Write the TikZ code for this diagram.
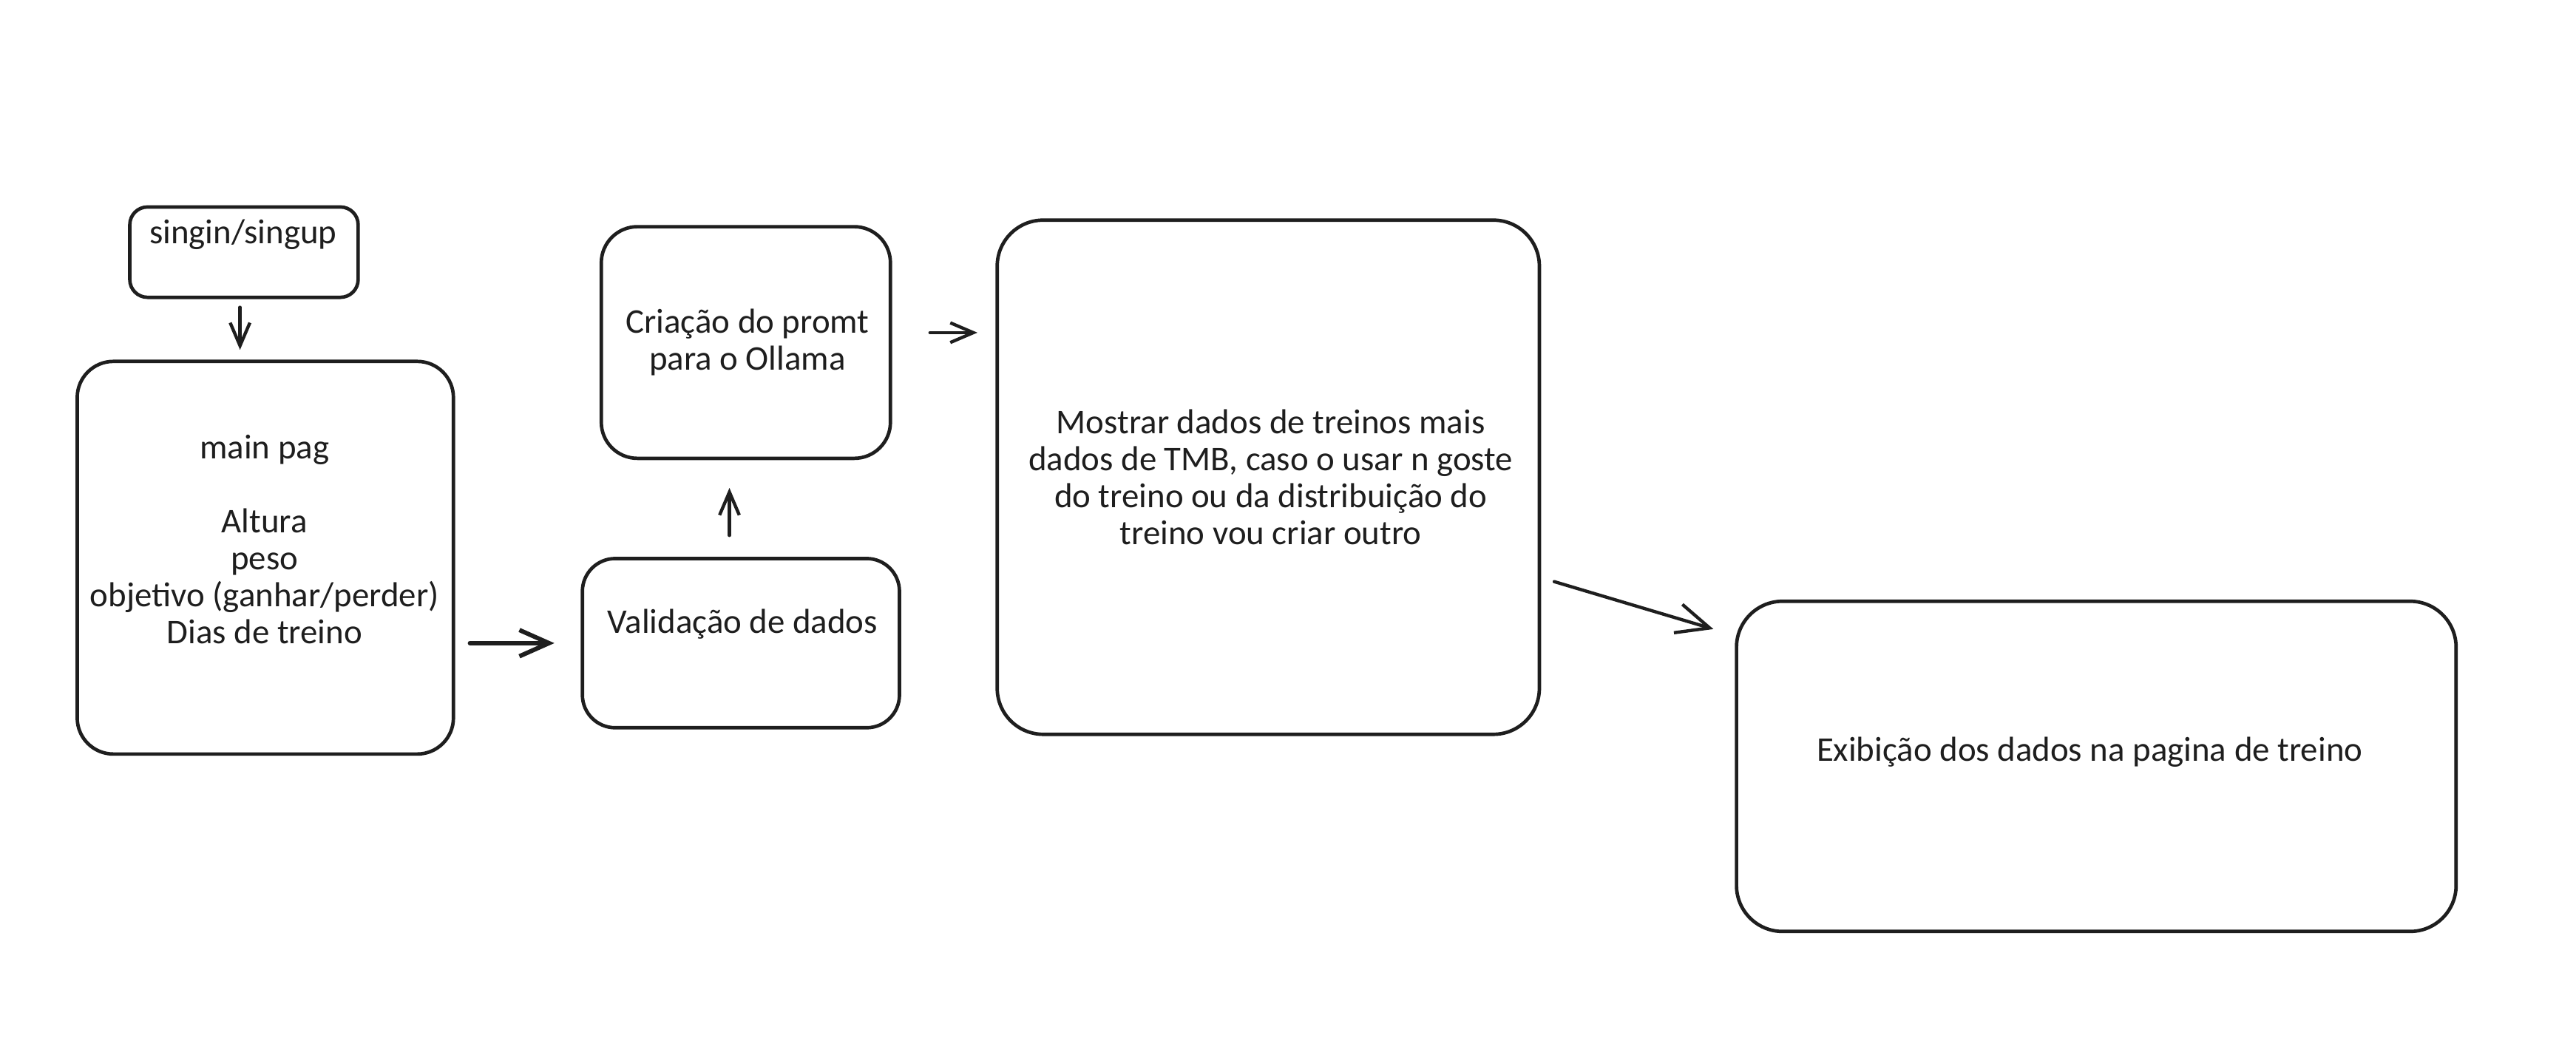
\documentclass[tikz,border=0pt]{standalone}
\usepackage{fontspec}
\setmainfont{Carlito}
\usetikzlibrary{calc,arrows.meta,positioning}
\definecolor{ink}{HTML}{1E1E1E}
\newcommand\un{0.25mm}

\begin{document}
\begin{tikzpicture}[
x=\un, y=-\un,
box/.style={
	draw=ink, line width=1.5pt,
	rectangle, rounded corners=#1,
	inner sep=0pt
},
box/.default=7mm,
txt/.style={
	text=ink, align=center, inner sep=0pt,
	font=\fontsize{15}{16}\selectfont
},
flow/.style={draw=ink, line width=1.4pt, line cap=round},
>={Straight Barb[length=3.5mm,width=3mm]}
]
\fill[white] (0,0) rectangle (1568,643.6);
\useasboundingbox (0,0) rectangle (1568,643.6);

% boxes
\node[box=2.7mm, minimum width=139*\un, minimum height=55*\un] (singin) at (148.5,153.5) {};
\node[box=5.5mm, minimum width=229*\un, minimum height=239*\un] (mainpag) at (161.5,339.5) {};
\node[box=5mm, minimum width=193*\un, minimum height=103*\un] (valid) at (451,391.5) {};
\node[box=5.5mm, minimum width=176*\un, minimum height=141*\un] (criacao) at (454,208.5) {};
\node[box, minimum width=330*\un, minimum height=313*\un] (mostrar) at (772,290.5) {};
\node[box, minimum width=438*\un, minimum height=201*\un] (exib) at (1276,466.5) {};

% texts
\node[txt] (singinTxt) at (148,143) {singin/singup};
\node[txt] (mainTxt) at (161,328.5) {main pag\\[16pt]Altura\\peso\\objetivo (ganhar/perder)\\Dias de treino};
\node[txt] (validTxt) at (452,380) {Validação de dados};
\node[txt] (criacaoTxt) at (455,208.5) {Criação do promt\\para o Ollama};
\node[txt] (mostrarTxt) at (773.5,290.5) {Mostrar dados de treinos mais\\dados de TMB, caso o usar n goste\\do treino ou da distribuição do\\treino vou criar outro};
\node[txt] (exibTxt) at (1272,458) {Exibição dos dados na pagina de treino};

% arrows
\draw[flow,->,shorten <=1.25mm,shorten >=1.5mm] ([xshift=-0.6mm]singin.south) -- ([xshift=-0.6mm]singin.south |- mainpag.north);
\draw[flow,line width=1.9pt,-{Straight Barb[length=4.5mm,width=4mm]},shorten <=2.25mm,shorten >=4mm] (mainpag.east |- valid.west) -- (valid.west);
\draw[flow,->,shorten <=3.25mm,shorten >=4.25mm] ([xshift=-1.75mm]valid.north) -- ([xshift=-1.75mm]valid.north |- criacao.south);
\draw[flow,->,shorten <=5.75mm,shorten >=2.75mm] ([yshift=1.5mm]criacao.east) -- ([yshift=1.5mm]criacao.east -| mostrar.west);
\draw[flow,-{Straight Barb[length=5mm,width=4.5mm]}] ($(mostrar.south east)+(8,-94)$) -- ($(exib.north west)+(-13,18)$);
\end{tikzpicture}
\end{document}
